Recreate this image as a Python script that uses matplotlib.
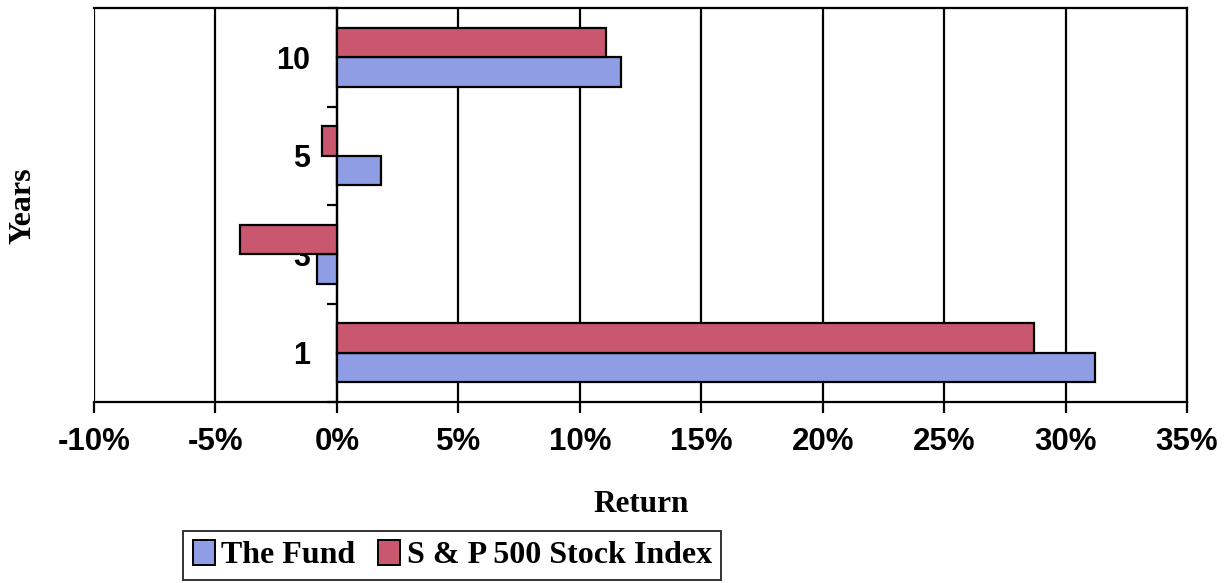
import matplotlib
matplotlib.use("Agg")
import matplotlib.pyplot as plt
from matplotlib.patches import Patch
from matplotlib.ticker import FuncFormatter, FixedLocator
import numpy as np

years = ["1", "3", "5", "10"]
fund_returns = [31.2, -0.8, 1.8, 11.7]
sp500_returns = [28.7, -4.0, -0.6, 11.1]
series_names = ["The Fund", "S & P 500 Stock Index"]
x_ticks = [-10, -5, 0, 5, 10, 15, 20, 25, 30, 35]

blue = "#8E9DE4"
red = "#C9586F"

fig = plt.figure(figsize=(12.31, 5.83), dpi=100)
ax = fig.add_axes([94 / 1231, 1 - 402 / 583, (1187 - 94) / 1231, (402 - 8) / 583])

pos = np.arange(len(years))
h = 0.3
ax.barh(pos - h / 2, fund_returns, height=h, color=blue, edgecolor="black",
        linewidth=1.6, zorder=3)
ax.barh(pos + h / 2, sp500_returns, height=h, color=red, edgecolor="black",
        linewidth=1.6, zorder=3)

ax.set_xlim(-10, 35)
ax.set_ylim(-0.5, len(years) - 0.5)

# x axis
ax.set_xticks(x_ticks)
ax.xaxis.set_major_formatter(FuncFormatter(lambda v, _: f"{v:.0f}%"))
ax.tick_params(axis="x", direction="out", length=8, width=1.6, pad=10,
               labelsize=22.5)
for t in ax.get_xticklabels():
    t.set_fontfamily("Liberation Sans")
    t.set_fontweight("bold")
ax.grid(axis="x", color="black", linewidth=1.6, zorder=1)

# category axis crossing at 0
ax.spines["left"].set_position(("data", 0))
ax.set_yticks(pos)
ax.set_yticklabels(years)
ax.yaxis.set_minor_locator(FixedLocator(np.arange(len(years) + 1) - 0.5))
ax.tick_params(axis="y", which="major", length=0, pad=19, labelsize=22)
ax.tick_params(axis="y", which="minor", direction="out", length=7, width=1.6)
for t in ax.get_yticklabels():
    t.set_fontfamily("Liberation Sans")
    t.set_fontweight("bold")

for s in ax.spines.values():
    s.set_linewidth(1.6)
    s.set_color("black")

fig.text(641 / 1231, 1 - 505 / 583, "Return", ha="center", va="center",
         fontsize=22.5, fontweight="bold", fontfamily="Liberation Serif")
fig.text(23 / 1231, 1 - 206 / 583, "Years", ha="center", va="center",
         rotation=90, fontsize=23, fontweight="bold",
         fontfamily="Liberation Serif")

handles = [Patch(facecolor=blue, edgecolor="black", linewidth=1.4),
           Patch(facecolor=red, edgecolor="black", linewidth=1.4)]
leg = fig.legend(handles, series_names, loc="lower left",
                 bbox_to_anchor=(183 / 1231, 3 / 583), ncol=2,
                 frameon=True, fancybox=False, edgecolor="black",
                 handlelength=0.7, handleheight=0.8, handletextpad=0.2,
                 columnspacing=0.7, borderpad=0.3, borderaxespad=0,
                 prop={"family": "Liberation Serif", "weight": "bold",
                       "size": 23})
leg.get_frame().set_linewidth(1.4)

fig.savefig("out.png", dpi=100)
